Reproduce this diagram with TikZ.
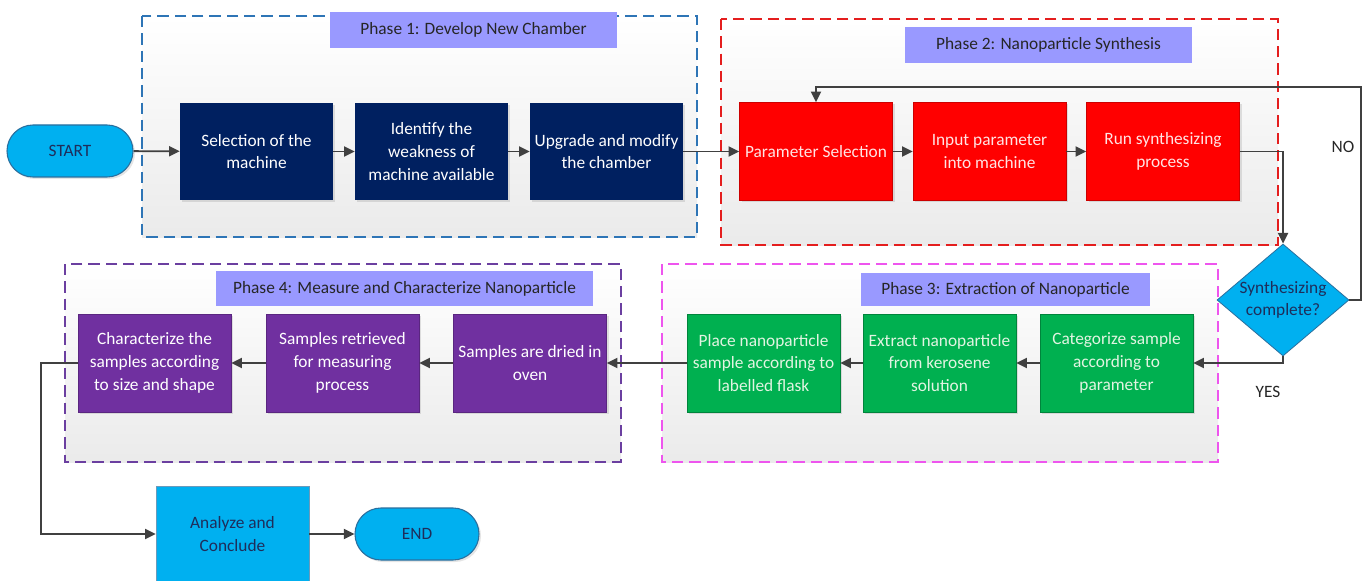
\documentclass[tikz,border=0pt]{standalone}
\usepackage{fontspec}
\setmainfont{Carlito}
\usetikzlibrary{arrows.meta,shapes.geometric,shapes.misc,shadows}

\definecolor{navy}{HTML}{002060}
\definecolor{redbox}{HTML}{FF0000}
\definecolor{greenbox}{HTML}{00B050}
\definecolor{purplebox}{HTML}{7030A0}
\definecolor{cyanbox}{HTML}{00B0F0}
\definecolor{cyanedge}{HTML}{2A6F9E}
\definecolor{darktext}{HTML}{1F2D5A}
\definecolor{titlefill}{HTML}{9999FF}
\definecolor{titletext}{HTML}{262626}
\definecolor{arrowgray}{HTML}{404040}
\definecolor{frameblue}{HTML}{2E75B6}
\definecolor{framered}{HTML}{E41E1E}
\definecolor{framepink}{HTML}{EE55EE}
\definecolor{framepurple}{HTML}{6B3FA0}

\tikzset{
  txt/.style={font=\fontsize{13pt}{17pt}\selectfont, align=center, inner sep=0pt},
  stepbox/.style={txt, rectangle, minimum width=153*0.75pt, minimum height=98*0.75pt,
    drop shadow={shadow xshift=1.5pt, shadow yshift=-1.5pt, opacity=0.22}},
  pone/.style={stepbox, fill=navy, text=white, minimum height=97*0.75pt},
  ptwo/.style={stepbox, fill=redbox, draw=redbox!80!black, line width=0.4pt, text={rgb,255:red,255;green,228;blue,228}},
  pthree/.style={stepbox, fill=greenbox, draw=greenbox!75!black, line width=0.4pt, text={rgb,255:red,226;green,244;blue,226}},
  pfour/.style={stepbox, fill=purplebox, draw=purplebox!80!black, line width=0.4pt, text=white},
  terminal/.style={txt, rounded rectangle, fill=cyanbox, draw=cyanedge, line width=0.8pt,
    minimum width=126*0.75pt, minimum height=52*0.75pt, text=darktext,
    drop shadow={shadow xshift=1.5pt, shadow yshift=-1.5pt, opacity=0.2}},
  titlebox/.style={txt, fill=titlefill, text=titletext},
  frame/.style={line width=2pt, dash pattern=on 8.5pt off 4.5pt, top color=white, bottom color=black!8},
  flow/.style={draw=arrowgray, line width=1.4pt, -{Triangle[length=8pt,width=7.5pt]}},
  answer/.style={txt, text=black!85}
}

\begin{document}
\begin{tikzpicture}[x=0.75pt, y=-0.75pt]
  \useasboundingbox (0,0) rectangle (1367,581);
  \clip (0,0) rectangle (1367,581);
  \fill[white] (0,0) rectangle (1367,581);

  % phase frames
  \draw[frame, draw=frameblue]   (142,16)  rectangle (697,237);
  \draw[frame, draw=framered]    (721,19)  rectangle (1278,245);
  \draw[frame, draw=framepink]   (662,264) rectangle (1218,462);
  \draw[frame, draw=framepurple] (65,264)  rectangle (621,462);

  % phase titles
  \node[titlebox, minimum width=287*0.75pt, minimum height=36*0.75pt] (t1) at (473.5,30) {Phase 1: Develop New Chamber};
  \node[titlebox, minimum width=287*0.75pt, minimum height=36*0.75pt] (t2) at (1048.5,45) {Phase 2: Nanoparticle Synthesis};
  \node[titlebox, minimum width=289*0.75pt, minimum height=33*0.75pt] (t3) at (1005.5,289.5) {Phase 3: Extraction of Nanoparticle};
  \node[titlebox, minimum width=377*0.75pt, minimum height=35*0.75pt] (t4) at (404.5,288.5) {Phase 4: Measure and Characterize Nanoparticle};

  % start and phase 1
  \node[terminal] (start) at (70,151) {START};
  \node[pone] (sel)  at (256.5,151.5) {Selection of the\\machine};
  \node[pone] (weak) at (431.5,151.5) {Identify the\\weakness of\\machine available};
  \node[pone] (upg)  at (606.5,151.5) {Upgrade and modify\\the chamber};

  % phase 2
  \node[ptwo] (par) at (816,151.5)   {Parameter Selection};
  \node[ptwo] (inp) at (989.5,151.5) {Input parameter\\into machine};
  \node[ptwo] (run) at (1163,151.5)  {Run synthesizing\\process};

  % decision
  \node[diamond, fill=cyanbox, draw=cyanedge, line width=0.6pt, inner sep=0pt,
        minimum width=132*0.75pt, minimum height=112*0.75pt,
        label={[txt, text=darktext]center:Synthesizing\\complete?}] (dec) at (1283,300) {};

  % phase 3
  \node[pthree] (cat)   at (1116.5,363) {Categorize sample\\according to\\parameter};
  \node[pthree] (ext)   at (939.5,363)  {Extract nanoparticle\\from kerosene\\solution};
  \node[pthree] (place) at (763.5,363)  {Place nanoparticle\\sample according to\\labelled flask};

  % phase 4
  \node[pfour] (dry)  at (530,363)   {Samples are dried in\\oven};
  \node[pfour] (ret)  at (342.5,363) {Samples retrieved\\for measuring\\process};
  \node[pfour] (char) at (154.5,363) {Characterize the\\samples according\\to size and shape};

  % conclusion
  \node[txt, rectangle, fill=cyanbox, draw=cyanedge!70, line width=0.4pt, text=darktext,
        minimum width=153*0.75pt, minimum height=96*0.75pt] (ana) at (232.5,534) {Analyze and\\Conclude};
  \node[terminal, minimum width=124*0.75pt] (end) at (417,534) {END};

  % answer labels
  \node[answer] (no)  at (1343,147) {NO};
  \node[answer] (yes) at (1268,392) {YES};

  % connectors
  \coordinate (loop) at (1361,87);
  \coordinate (down) at (41,534);
  \draw[flow] (start) -- (sel);
  \draw[flow] (sel) -- (weak);
  \draw[flow] (weak) -- (upg);
  \draw[flow] (upg) -- (par);
  \draw[flow] (par) -- (inp);
  \draw[flow] (inp) -- (run);
  \draw[flow] (run.east) -| (dec.north);
  \draw[flow] (dec.east) -| (loop) -| (par.north);
  \draw[flow] (dec.south) |- (cat.east);
  \draw[flow] (cat) -- (ext);
  \draw[flow] (ext) -- (place);
  \draw[flow] (place) -- (dry);
  \draw[flow] (dry) -- (ret);
  \draw[flow] (ret) -- (char);
  \draw[flow] (char.west) -| (down) -- (ana.west);
  \draw[flow] (ana) -- (end);
\end{tikzpicture}
\end{document}
